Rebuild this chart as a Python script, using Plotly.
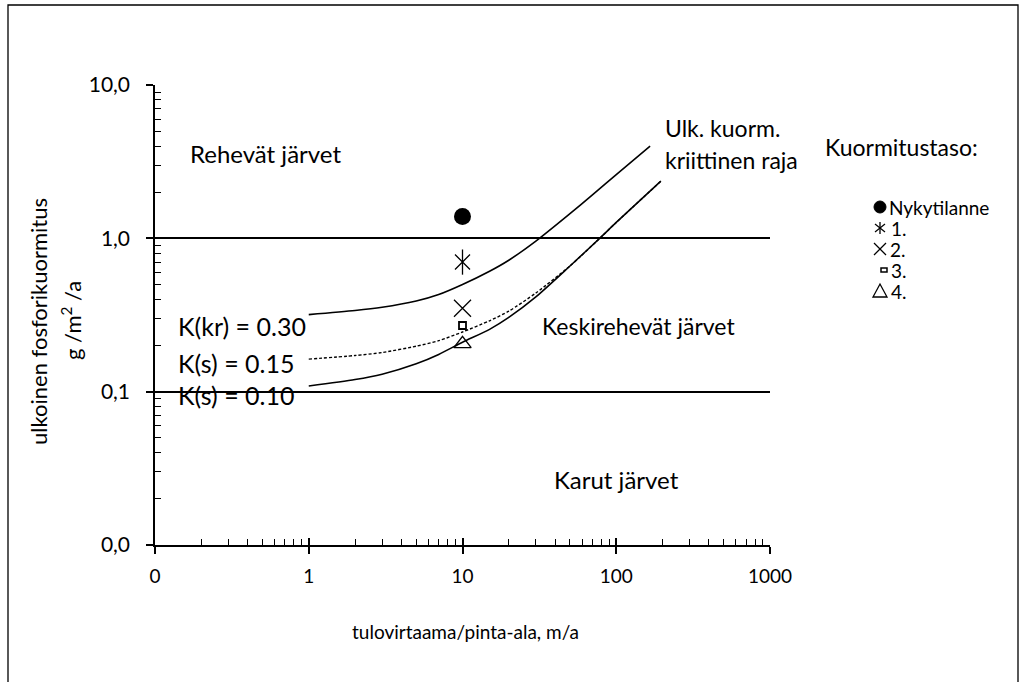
import plotly.graph_objects as go

# Inflow per lake area (m/a) and phosphorus load limits (g/m2/a)
q_kr = [1, 2, 3, 5, 7, 10, 15, 20, 30, 50, 70, 100, 166]
L_kr = [0.318, 0.338, 0.355, 0.39, 0.43, 0.50, 0.61, 0.72, 0.96, 1.45, 1.92, 2.6, 4.0]

q_s15 = [1, 2, 3, 5, 7, 10, 15, 20, 30, 50, 78, 100, 195]
L_s15 = [0.163, 0.172, 0.18, 0.198, 0.215, 0.245, 0.29, 0.335, 0.44, 0.66, 1.0, 1.27, 2.36]

q_s10 = [1, 2, 3, 5, 7, 10, 15, 20, 30, 50, 78, 100, 195]
L_s10 = [0.109, 0.12, 0.13, 0.152, 0.175, 0.21, 0.255, 0.305, 0.415, 0.66, 1.0, 1.27, 2.36]

# Loading scenarios for the lake
q_lake = 10
levels = ["Nykytilanne", "1.", "2.", "3.", "4."]
loads = [1.39, 0.70, 0.35, 0.27, 0.205]

x_ticks = [0.1, 1, 10, 100, 1000]
x_ticktext = ["0", "1", "10", "100", "1000"]
y_ticks = [0.01, 0.1, 1, 10]
y_ticktext = ["0,0", "0,1", "1,0", "10,0"]

FONT = "Lato"
W, H = 1027, 682
L, R, T, B = 155, 770, 85, 545      # plot area in pixels


def px(x):
    return (x - L) / (R - L)


def py(y):
    return (B - y) / (B - T)


fig = go.Figure()

curve = dict(color="black", width=1.6, shape="spline", smoothing=0.7)
fig.add_trace(go.Scatter(x=q_kr, y=L_kr, mode="lines", line=curve))
fig.add_trace(go.Scatter(x=q_s10, y=L_s10, mode="lines", line=curve))
fig.add_trace(go.Scatter(x=q_s15, y=L_s15, mode="lines",
                         line=dict(curve, width=1.4, dash="3px,2px")))

# one marker style per loading level (level 1 is a six-armed star: x plus vertical bar)
marker_styles = [
    [dict(symbol="circle", size=17, color="black", line=dict(width=0))],
    [dict(symbol="x-thin-open", size=15, color="black", line=dict(color="black", width=1.3)),
     dict(symbol="line-ns-open", size=18, color="black", line=dict(color="black", width=1.3))],
    [dict(symbol="x-thin-open", size=17, color="black", line=dict(color="black", width=1.3))],
    [dict(symbol="square-open", size=7, color="black", line=dict(color="black", width=1.8))],
    [dict(symbol="triangle-up-open", size=15, color="black", line=dict(color="black", width=1.4))],
]
for ld, styles in zip(loads, marker_styles):
    for st in styles:
        fig.add_trace(go.Scatter(x=[q_lake], y=[ld], mode="markers", marker=st))

# overlay axes carry the inner halves of the major ticks
fig.add_trace(go.Scatter(x=[None], y=[None], xaxis="x2", yaxis="y2", mode="markers"))

minor_vals = [k * 10 ** d for d in range(-2, 3) for k in range(2, 10)]

fig.update_layout(
    width=W, height=H,
    margin=dict(l=L, r=W - R, t=T, b=H - B),
    paper_bgcolor="white", plot_bgcolor="white",
    showlegend=False,
    font=dict(family=FONT, size=19, color="black"),
    xaxis=dict(type="log", range=[-1, 3], tickvals=x_ticks, ticktext=x_ticktext,
               ticks="outside", ticklen=7, tickwidth=1.5, tickcolor="black",
               showline=True, linecolor="black", linewidth=1.5, showgrid=False, zeroline=False,
               tickfont=dict(size=19), ticklabelstandoff=6,
               minor=dict(tickvals=minor_vals, ticks="inside", ticklen=6, tickwidth=1.2,
                          tickcolor="black", showgrid=False)),
    yaxis=dict(type="log", range=[-2, 1], tickvals=y_ticks, ticktext=y_ticktext,
               ticks="outside", ticklen=7, tickwidth=1.5, tickcolor="black",
               showline=True, linecolor="black", linewidth=1.5,
               showgrid=True, gridcolor="black", gridwidth=1.5, zeroline=False,
               tickfont=dict(size=21), ticklabelstandoff=12,
               minor=dict(tickvals=minor_vals, ticks="inside", ticklen=6, tickwidth=1.2,
                          tickcolor="black", showgrid=False)),
    xaxis2=dict(type="log", range=[-1, 3], overlaying="x", anchor="y2", side="bottom",
                tickvals=x_ticks, ticks="inside", ticklen=7, tickwidth=1.5, tickcolor="black",
                showticklabels=False, showgrid=False, showline=False, zeroline=False),
    yaxis2=dict(type="log", range=[-2, 1], overlaying="y", anchor="x2", side="left",
                tickvals=y_ticks, ticks="inside", ticklen=7, tickwidth=1.5, tickcolor="black",
                showticklabels=False, showgrid=False, showline=False, zeroline=False),
)

texts = [
    ("Rehevät järvet", 188, 153, 24),
    ("Ulk. kuorm.", 663, 128, 23),
    ("kriittinen raja", 663, 160, 23),
    ("Kuormitustaso:", 823, 147, 23),
    ("K(kr) = 0.30", 176, 326, 25),
    ("K(s) = 0.15", 176, 363, 25),
    ("K(s) = 0.10", 176, 395, 25),
    ("Keskirehevät järvet", 540, 326, 23),
    ("Karut järvet", 552, 479, 24),
]
for t, x, y, s in texts:
    fig.add_annotation(text=t, x=px(x), y=py(y), xref="paper", yref="paper",
                       xanchor="left", yanchor="middle", showarrow=False,
                       font=dict(size=s, family=FONT, color="black"))

# key for the loading levels, drawn with shapes beside the plot
key_rows = [207, 228, 249, 270, 291]
key_cx = 880
text_x = [887, 889, 888, 889, 889]
for lv, ry, tx in zip(levels, key_rows, text_x):
    fig.add_annotation(text=lv, x=px(tx), y=py(ry), xref="paper", yref="paper",
                       xanchor="left", yanchor="middle", showarrow=False,
                       font=dict(size=19, family=FONT, color="black"))


def seg(x0, y0, x1, y1, w=1.3):
    fig.add_shape(type="line", xref="paper", yref="paper",
                  x0=px(x0), y0=py(y0), x1=px(x1), y1=py(y1),
                  line=dict(color="black", width=w))


cx = key_cx
# current load: filled circle
r0 = key_rows[0]
fig.add_shape(type="circle", xref="paper", yref="paper",
              x0=px(cx - 6), x1=px(cx + 6), y0=py(r0 + 6), y1=py(r0 - 6),
              fillcolor="black", line=dict(color="black", width=1))
# level 1: six-armed star
r1 = key_rows[1]
seg(cx, r1 - 6, cx, r1 + 6)
seg(cx - 5, r1 - 4, cx + 5, r1 + 4)
seg(cx - 5, r1 + 4, cx + 5, r1 - 4)
# level 2: cross
r2 = key_rows[2]
seg(cx - 6, r2 - 6, cx + 6, r2 + 6)
seg(cx - 6, r2 + 6, cx + 6, r2 - 6)
# level 3: small rectangle
r3 = key_rows[3]
fig.add_shape(type="rect", xref="paper", yref="paper",
              x0=px(cx + 1), x1=px(cx + 7), y0=py(r3 + 2), y1=py(r3 - 2),
              line=dict(color="black", width=1.5))
# level 4: open triangle
r4 = key_rows[4]
fig.add_shape(type="path", xref="paper", yref="paper",
              path=f"M {px(cx - 7)} {py(r4 + 6)} L {px(cx + 7)} {py(r4 + 6)} L {px(cx)} {py(r4 - 7)} Z",
              line=dict(color="black", width=1.3))

fig.add_annotation(text="tulovirtaama/pinta-ala, m/a", x=px(465), y=py(631),
                   xref="paper", yref="paper", xanchor="center", yanchor="middle",
                   showarrow=False, font=dict(size=19, family=FONT))
fig.add_annotation(text="ulkoinen fosforikuormitus", x=px(38), y=py(322), textangle=-90,
                   xref="paper", yref="paper", xanchor="center", yanchor="middle",
                   showarrow=False, font=dict(size=22, family=FONT))
fig.add_annotation(text="g /m<sup>2</sup> /a", x=px(71), y=py(321), textangle=-90,
                   xref="paper", yref="paper", xanchor="center", yanchor="middle",
                   showarrow=False, font=dict(size=22, family=FONT))

# frame around the whole chart
fig.add_shape(type="rect", xref="paper", yref="paper",
              x0=px(8), x1=px(1018), y0=py(700), y1=py(5),
              line=dict(color="black", width=1.3))

fig.write_html("out.html")
